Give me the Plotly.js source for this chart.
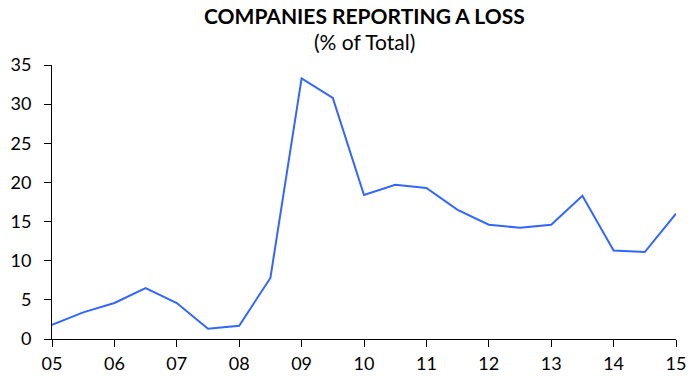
<!DOCTYPE html>
<html>
<head>
<meta charset="utf-8">
<script src="https://cdn.plot.ly/plotly-3.0.1.min.js"></script>
<style>html,body{margin:0;padding:0;background:#fff;}#chart{width:688px;height:376px;}</style>
</head>
<body>
<div id="chart"></div>
<script>
const years = [2005,2005.5,2006,2006.5,2007,2007.5,2008,2008.5,2009,2009.5,2010,2010.5,2011,2011.5,2012,2012.5,2013,2013.5,2014,2014.5,2015];
const lossPct = [1.8,3.4,4.6,6.5,4.6,1.3,1.7,7.8,33.3,30.8,18.4,19.7,19.3,16.5,14.6,14.2,14.6,18.3,11.3,11.1,16.0];
const tickVals = [2005,2006,2007,2008,2009,2010,2011,2012,2013,2014,2015];
const tickText = ['05','06','07','08','09','10','11','12','13','14','15'];
const fontFam = 'Lato, "Open Sans", sans-serif';

const trace = {
  x: years, y: lossPct, type: 'scatter', mode: 'lines',
  line: {color: '#3366ff', width: 2}, hoverinfo: 'skip'
};
const layout = {
  width: 688, height: 376,
  margin: {l: 52, r: 12, t: 65, b: 37},
  paper_bgcolor: '#ffffff', plot_bgcolor: '#ffffff',
  showlegend: false,
  font: {family: fontFam, color: '#000', size: 17},
  xaxis: {
    range: [2005, 2015], tickvals: tickVals, ticktext: tickText,
    showgrid: false, zeroline: false, showline: true, linecolor: '#000', linewidth: 1,
    ticks: 'outside', ticklen: 7, tickcolor: '#000', ticklabelstandoff: 1,
    tickfont: {family: fontFam, size: 18, color: '#000'}
  },
  yaxis: {
    range: [0, 35], tickvals: [0,5,10,15,20,25,30,35],
    showgrid: false, zeroline: false, showline: true, linecolor: '#000', linewidth: 1,
    ticks: 'outside', ticklen: 7, tickcolor: '#000', ticklabelstandoff: 9,
    tickfont: {family: fontFam, size: 18, color: '#000'}
  },
  annotations: [
    {text: '<b>COMPANIES REPORTING A LOSS</b>', xref: 'paper', yref: 'paper', x: 0.5, y: 1, yshift: 50,
     xanchor: 'center', yanchor: 'middle', showarrow: false, font: {family: fontFam, size: 21, color: '#000'}},
    {text: '(% of Total)', xref: 'paper', yref: 'paper', x: 0.5, y: 1, yshift: 24,
     xanchor: 'center', yanchor: 'middle', showarrow: false, font: {family: fontFam, size: 21, color: '#000'}}
  ]
};
Plotly.newPlot('chart', [trace], layout, {displayModeBar: false, staticPlot: true});
</script>
</body>
</html>
